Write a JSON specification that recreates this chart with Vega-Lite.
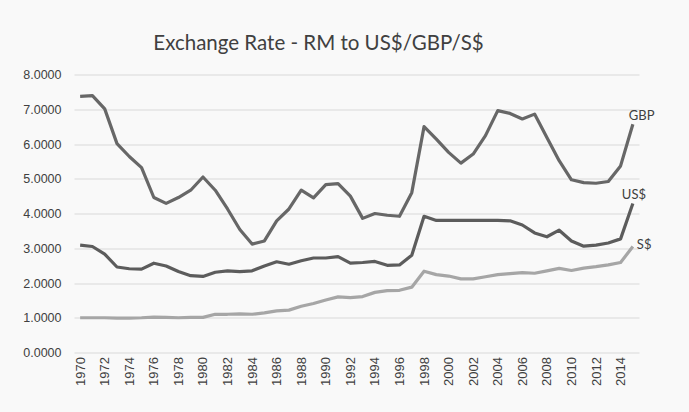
{
  "$schema": "https://vega.github.io/schema/vega-lite/v6.json",
  "width": 565,
  "height": 278,
  "autosize": {"type": "none"},
  "padding": {"left": 74, "top": 74.5, "right": 50, "bottom": 59.5},
  "background": "#f9f9f9",
  "title": {
    "text": "Exchange Rate - RM to US$/GBP/S$",
    "font": "Lato",
    "fontSize": 20.5,
    "fontWeight": "normal",
    "color": "#404040",
    "anchor": "middle",
    "dx": -38,
    "offset": 14
  },
  "config": {
    "view": {"stroke": null},
    "axis": {"labelFont": "Liberation Sans", "labelFontSize": 12.5, "labelColor": "#404040"}
  },
  "data": {
    "values": [
      {"year": 1970, "GBP": 7.37, "USD": 3.09, "SGD": 1.00},
      {"year": 1971, "GBP": 7.39, "USD": 3.05, "SGD": 1.00},
      {"year": 1972, "GBP": 7.01, "USD": 2.83, "SGD": 1.00},
      {"year": 1973, "GBP": 6.01, "USD": 2.46, "SGD": 0.99},
      {"year": 1974, "GBP": 5.64, "USD": 2.41, "SGD": 0.99},
      {"year": 1975, "GBP": 5.32, "USD": 2.40, "SGD": 1.00},
      {"year": 1976, "GBP": 4.46, "USD": 2.57, "SGD": 1.02},
      {"year": 1977, "GBP": 4.29, "USD": 2.49, "SGD": 1.01},
      {"year": 1978, "GBP": 4.46, "USD": 2.33, "SGD": 1.00},
      {"year": 1979, "GBP": 4.67, "USD": 2.21, "SGD": 1.01},
      {"year": 1980, "GBP": 5.05, "USD": 2.19, "SGD": 1.01},
      {"year": 1981, "GBP": 4.67, "USD": 2.31, "SGD": 1.10},
      {"year": 1982, "GBP": 4.13, "USD": 2.35, "SGD": 1.10},
      {"year": 1983, "GBP": 3.54, "USD": 2.33, "SGD": 1.11},
      {"year": 1984, "GBP": 3.12, "USD": 2.35, "SGD": 1.10},
      {"year": 1985, "GBP": 3.21, "USD": 2.49, "SGD": 1.14},
      {"year": 1986, "GBP": 3.79, "USD": 2.61, "SGD": 1.20},
      {"year": 1987, "GBP": 4.13, "USD": 2.54, "SGD": 1.22},
      {"year": 1988, "GBP": 4.67, "USD": 2.64, "SGD": 1.33},
      {"year": 1989, "GBP": 4.45, "USD": 2.72, "SGD": 1.41},
      {"year": 1990, "GBP": 4.83, "USD": 2.72, "SGD": 1.51},
      {"year": 1991, "GBP": 4.86, "USD": 2.76, "SGD": 1.60},
      {"year": 1992, "GBP": 4.50, "USD": 2.57, "SGD": 1.58},
      {"year": 1993, "GBP": 3.86, "USD": 2.59, "SGD": 1.61},
      {"year": 1994, "GBP": 4.00, "USD": 2.62, "SGD": 1.73},
      {"year": 1995, "GBP": 3.95, "USD": 2.51, "SGD": 1.78},
      {"year": 1996, "GBP": 3.92, "USD": 2.52, "SGD": 1.79},
      {"year": 1997, "GBP": 4.60, "USD": 2.80, "SGD": 1.88},
      {"year": 1998, "GBP": 6.50, "USD": 3.92, "SGD": 2.34},
      {"year": 1999, "GBP": 6.14, "USD": 3.80, "SGD": 2.24},
      {"year": 2000, "GBP": 5.76, "USD": 3.80, "SGD": 2.20},
      {"year": 2001, "GBP": 5.45, "USD": 3.80, "SGD": 2.12},
      {"year": 2002, "GBP": 5.71, "USD": 3.80, "SGD": 2.12},
      {"year": 2003, "GBP": 6.24, "USD": 3.80, "SGD": 2.18},
      {"year": 2004, "GBP": 6.96, "USD": 3.80, "SGD": 2.24},
      {"year": 2005, "GBP": 6.88, "USD": 3.79, "SGD": 2.27},
      {"year": 2006, "GBP": 6.72, "USD": 3.67, "SGD": 2.30},
      {"year": 2007, "GBP": 6.86, "USD": 3.44, "SGD": 2.28},
      {"year": 2008, "GBP": 6.19, "USD": 3.33, "SGD": 2.35},
      {"year": 2009, "GBP": 5.52, "USD": 3.52, "SGD": 2.42},
      {"year": 2010, "GBP": 4.97, "USD": 3.21, "SGD": 2.36},
      {"year": 2011, "GBP": 4.89, "USD": 3.06, "SGD": 2.43},
      {"year": 2012, "GBP": 4.87, "USD": 3.09, "SGD": 2.47},
      {"year": 2013, "GBP": 4.92, "USD": 3.15, "SGD": 2.52},
      {"year": 2014, "GBP": 5.37, "USD": 3.27, "SGD": 2.59},
      {"year": 2015, "GBP": 6.57, "USD": 4.29, "SGD": 3.05}
    ]
  },
  "transform": [
    {"fold": ["GBP", "USD", "SGD"], "as": ["series", "rate"]}
  ],
  "encoding": {
    "x": {
      "field": "year",
      "type": "ordinal",
      "title": null,
      "axis": {
        "values": [1970,1972,1974,1976,1978,1980,1982,1984,1986,1988,1990,1992,1994,1996,1998,2000,2002,2004,2006,2008,2010,2012,2014],
        "labelAngle": -90,
        "labelPadding": 4,
        "ticks": false,
        "domain": false,
        "grid": false,
        "labelFontSize": 13
      }
    },
    "y": {
      "field": "rate",
      "type": "quantitative",
      "title": null,
      "scale": {"domain": [0, 8]},
      "axis": {
        "values": [0,1,2,3,4,5,6,7,8],
        "format": ".4f",
        "ticks": false,
        "domain": false,
        "labelPadding": 13,
        "gridColor": "#d9d9d9",
        "gridWidth": 1
      }
    },
    "color": {
      "field": "series",
      "type": "nominal",
      "scale": {"domain": ["GBP", "USD", "SGD"], "range": ["#676767", "#5c5c5c", "#a6a6a6"]},
      "legend": null
    }
  },
  "layer": [
    {"mark": {"type": "line", "strokeWidth": 3.2, "strokeJoin": "round", "strokeCap": "butt"}},
    {
      "transform": [{"filter": "datum.year == 2015 && datum.series == 'GBP'"}],
      "mark": {"type": "text", "align": "left", "baseline": "middle", "dx": -4, "dy": -8, "font": "Lato", "fontSize": 13},
      "encoding": {"text": {"value": "GBP"}, "color": {"value": "#404040"}}
    },
    {
      "transform": [{"filter": "datum.year == 2015 && datum.series == 'USD'"}],
      "mark": {"type": "text", "align": "left", "baseline": "middle", "dx": -11, "dy": -8, "font": "Lato", "fontSize": 13},
      "encoding": {"text": {"value": "US$"}, "color": {"value": "#404040"}}
    },
    {
      "transform": [{"filter": "datum.year == 2015 && datum.series == 'SGD'"}],
      "mark": {"type": "text", "align": "left", "baseline": "middle", "dx": 4, "dy": -2, "font": "Lato", "fontSize": 13},
      "encoding": {"text": {"value": "S$"}, "color": {"value": "#404040"}}
    }
  ]
}
